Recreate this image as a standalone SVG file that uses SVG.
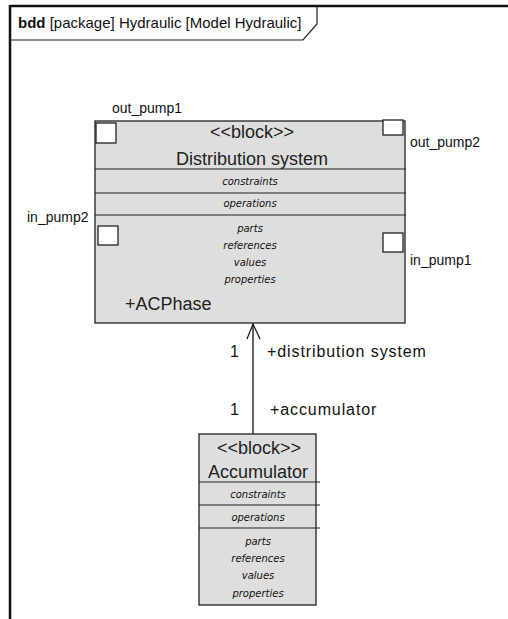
<svg xmlns="http://www.w3.org/2000/svg" width="508" height="619" viewBox="0 0 508 619">
<style>
.lbl{font-family:"Liberation Sans",Arial,sans-serif;font-size:14px;fill:#111}
.role{font-family:"Liberation Sans",Arial,sans-serif;font-size:16px;letter-spacing:0.9px;fill:#111}
.big{font-family:"Liberation Sans",Arial,sans-serif;font-size:18px;fill:#222}
.it{font-family:"DejaVu Sans",sans-serif;font-style:italic;font-size:10px;fill:#111}
.blk{fill:#dedede;stroke:#222;stroke-width:1.3}
.sep{stroke:#222;stroke-width:1.2}
.port{fill:#fff;stroke:#222;stroke-width:1.3}
</style>
<rect width="508" height="619" fill="#fff"/>
<g id="frame">
<line x1="10" y1="6" x2="508" y2="6" stroke="#111" stroke-width="2.5"/>
<line x1="10" y1="5" x2="10" y2="619" stroke="#111" stroke-width="2.5"/>
<polyline points="317,6 317,24 303,40 10,40" fill="none" stroke="#222" stroke-width="1.2"/>
<text x="18" y="28" font-family="'Liberation Sans',Arial,sans-serif" font-size="15" fill="#111"><tspan font-weight="bold">bdd</tspan> [package] Hydraulic [Model Hydraulic]</text>
</g>
<g id="connectors">
<line x1="253" y1="324" x2="253" y2="434" stroke="#111" stroke-width="1.3"/>
<polyline points="247,339 253,324 260,339" fill="none" stroke="#111" stroke-width="1.2"/>
<text class="role" x="230" y="357">1</text>
<text class="role" x="267" y="357">+distribution system</text>
<text class="role" x="230" y="415">1</text>
<text class="role" x="270" y="415">+accumulator</text>
</g>
<g id="distribution-system">
<rect class="blk" x="95" y="121" width="310" height="202"/>
<line class="sep" x1="95" y1="169" x2="406" y2="169"/>
<line class="sep" x1="95" y1="193" x2="406" y2="193"/>
<line class="sep" x1="95" y1="215" x2="406" y2="215"/>
<text class="big" x="252" y="138" text-anchor="middle">&lt;&lt;block&gt;&gt;</text>
<text class="big" x="252" y="165" text-anchor="middle">Distribution system</text>
<text class="it" x="250" y="185" text-anchor="middle">constraints</text>
<text class="it" x="250" y="207" text-anchor="middle">operations</text>
<text class="it" x="250" y="232" text-anchor="middle">parts</text>
<text class="it" x="250" y="249" text-anchor="middle">references</text>
<text class="it" x="250" y="266" text-anchor="middle">values</text>
<text class="it" x="250" y="283" text-anchor="middle">properties</text>
<text class="big" x="125" y="310">+ACPhase</text>
</g>
<g id="port-out_pump1">
<rect class="port" x="96" y="123" width="20" height="20"/>
<text class="lbl" x="112" y="113">out_pump1</text>
</g>
<g id="port-out_pump2">
<rect class="port" x="383" y="120" width="20" height="15"/>
<text class="lbl" x="410" y="147">out_pump2</text>
</g>
<g id="port-in_pump2">
<rect class="port" x="98" y="226" width="20" height="19"/>
<text class="lbl" x="27" y="222">in_pump2</text>
</g>
<g id="port-in_pump1">
<rect class="port" x="383" y="233" width="20" height="19"/>
<text class="lbl" x="410" y="265">in_pump1</text>
</g>
<g id="accumulator">
<rect class="blk" x="199" y="434" width="117" height="171"/>
<line class="sep" x1="199" y1="482" x2="320" y2="482"/>
<line class="sep" x1="199" y1="505" x2="320" y2="505"/>
<line class="sep" x1="199" y1="528" x2="320" y2="528"/>
<text class="big" x="259" y="454" text-anchor="middle">&lt;&lt;block&gt;&gt;</text>
<text class="big" x="258" y="478" text-anchor="middle">Accumulator</text>
<text class="it" x="258" y="498" text-anchor="middle">constraints</text>
<text class="it" x="258" y="521" text-anchor="middle">operations</text>
<text class="it" x="258" y="545" text-anchor="middle">parts</text>
<text class="it" x="258" y="562" text-anchor="middle">references</text>
<text class="it" x="258" y="579" text-anchor="middle">values</text>
<text class="it" x="258" y="597" text-anchor="middle">properties</text>
</g>
</svg>
